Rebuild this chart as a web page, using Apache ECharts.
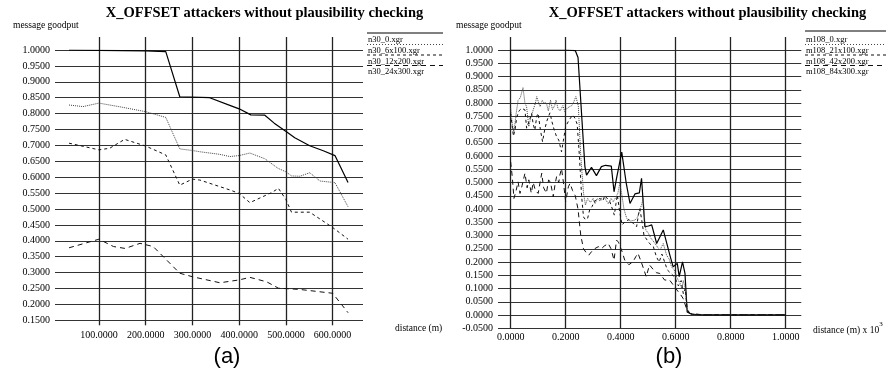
<!DOCTYPE html>
<html>
<head>
<meta charset="utf-8">
<script src="https://cdn.jsdelivr.net/npm/echarts@6/dist/echarts.min.js"></script>
<style>
  html, body { margin: 0; padding: 0; background: #fff; }
  #chart { width: 886px; height: 374px; }
</style>
</head>
<body>
<div id="chart"></div>
<script>
const title = 'X_OFFSET attackers without plausibility checking';

// panel (a): distance in metres
const ticksA = [100, 200, 300, 400, 500, 600];
const namesA = ['n30_0.xgr', 'n30_6x100.xgr', 'n30_12x200.xgr', 'n30_24x300.xgr'];
const n30_0 = [[36, 1.0], [100, 0.999], [200, 0.997], [243, 0.995], [273, 0.853], [337, 0.850], [380, 0.826],
  [400, 0.815], [425, 0.796], [455, 0.795], [475, 0.77], [502, 0.742], [519, 0.724], [551, 0.699],
  [580, 0.683], [605, 0.668], [633, 0.583]];
const n30_6x100 = [[36, 0.827], [66, 0.822], [100, 0.833], [150, 0.82], [200, 0.806], [243, 0.788],
  [273, 0.689], [300, 0.684], [316, 0.680], [358, 0.672], [380, 0.665], [400, 0.668], [423, 0.676],
  [455, 0.658], [483, 0.628], [500, 0.617], [512, 0.604], [530, 0.603], [551, 0.614], [573, 0.588],
  [605, 0.583], [633, 0.507]];
const n30_12x200 = [[36, 0.707], [100, 0.686], [123, 0.691], [155, 0.719], [200, 0.698], [243, 0.670],
  [273, 0.575], [300, 0.594], [316, 0.591], [380, 0.56], [400, 0.549], [423, 0.520], [470, 0.552],
  [484, 0.565], [500, 0.53], [512, 0.490], [551, 0.490], [600, 0.442], [633, 0.405]];
const n30_24x300 = [[36, 0.378], [100, 0.405], [131, 0.382], [156, 0.376], [188, 0.392], [216, 0.382],
  [273, 0.298], [300, 0.287], [359, 0.268], [400, 0.277], [423, 0.285], [459, 0.271], [484, 0.251],
  [530, 0.247], [600, 0.235], [633, 0.174]];

// panel (b): distance in km
const ticksB = [0, 0.2, 0.4, 0.6, 0.8, 1.0];
const namesB = ['m108_0.xgr', 'm108_21x100.xgr', 'm108_42x200.xgr', 'm108_84x300.xgr'];
const m108_0 = [[0, 1.0], [0.1, 1.0], [0.2, 1.0], [0.235, 0.998], [0.245, 0.972], [0.27, 0.56],
  [0.276, 0.528], [0.294, 0.557], [0.312, 0.526], [0.33, 0.56], [0.345, 0.565], [0.366, 0.562],
  [0.376, 0.465], [0.385, 0.516], [0.404, 0.615], [0.42, 0.50], [0.434, 0.421], [0.452, 0.457],
  [0.468, 0.461], [0.476, 0.516], [0.488, 0.333], [0.501, 0.336], [0.513, 0.340], [0.531, 0.270],
  [0.555, 0.321], [0.579, 0.226], [0.591, 0.182], [0.606, 0.195], [0.613, 0.145], [0.625, 0.201],
  [0.634, 0.157], [0.642, 0.012], [0.658, 0.003], [0.7, 0.001], [1.0, 0.001]];
const m108_21x100 = [[0, 0.78], [0.006, 0.72], [0.012, 0.69], [0.02, 0.76], [0.027, 0.81], [0.035, 0.82],
  [0.045, 0.858], [0.052, 0.80], [0.058, 0.786], [0.066, 0.711], [0.072, 0.74], [0.082, 0.774],
  [0.09, 0.80], [0.095, 0.824], [0.102, 0.80], [0.107, 0.786], [0.115, 0.81], [0.122, 0.80],
  [0.13, 0.80], [0.137, 0.77], [0.145, 0.811], [0.152, 0.775], [0.16, 0.79], [0.165, 0.811],
  [0.172, 0.78], [0.18, 0.77], [0.19, 0.79], [0.197, 0.767], [0.205, 0.78], [0.214, 0.786],
  [0.222, 0.79], [0.228, 0.80], [0.237, 0.824], [0.246, 0.79], [0.255, 0.60], [0.265, 0.46],
  [0.272, 0.415], [0.28, 0.44], [0.29, 0.425], [0.30, 0.44], [0.307, 0.42], [0.315, 0.44],
  [0.325, 0.43], [0.335, 0.45], [0.343, 0.44], [0.355, 0.42], [0.365, 0.44], [0.373, 0.428],
  [0.38, 0.44], [0.39, 0.46], [0.397, 0.497], [0.405, 0.45], [0.412, 0.40], [0.422, 0.365],
  [0.435, 0.355], [0.452, 0.358], [0.462, 0.37], [0.47, 0.40], [0.476, 0.415], [0.482, 0.44],
  [0.488, 0.35], [0.492, 0.32], [0.50, 0.31], [0.51, 0.29], [0.525, 0.27], [0.535, 0.255],
  [0.543, 0.245], [0.555, 0.27], [0.567, 0.226], [0.577, 0.21], [0.585, 0.182], [0.595, 0.17],
  [0.605, 0.14], [0.616, 0.12], [0.622, 0.10], [0.628, 0.13], [0.635, 0.10], [0.642, 0.02],
  [0.655, 0.004], [0.7, 0.001], [1.0, 0.001]];
const m108_42x200 = [[0, 0.76], [0.01, 0.675], [0.016, 0.70], [0.022, 0.745], [0.03, 0.77], [0.04, 0.78],
  [0.052, 0.774], [0.058, 0.705], [0.064, 0.70], [0.07, 0.74], [0.076, 0.761], [0.082, 0.72],
  [0.088, 0.698], [0.095, 0.75], [0.1, 0.761], [0.108, 0.70], [0.116, 0.654], [0.124, 0.70],
  [0.131, 0.73], [0.138, 0.75], [0.143, 0.763], [0.15, 0.73], [0.158, 0.70], [0.167, 0.673],
  [0.175, 0.66], [0.185, 0.616], [0.192, 0.66], [0.2, 0.711], [0.206, 0.715], [0.212, 0.735],
  [0.218, 0.742], [0.226, 0.755], [0.234, 0.742], [0.242, 0.72], [0.25, 0.60], [0.258, 0.45],
  [0.265, 0.37], [0.272, 0.36], [0.28, 0.365], [0.288, 0.40], [0.296, 0.409], [0.305, 0.43],
  [0.315, 0.435], [0.325, 0.44], [0.335, 0.43], [0.342, 0.45], [0.349, 0.453], [0.36, 0.43],
  [0.37, 0.40], [0.377, 0.377], [0.383, 0.42], [0.388, 0.453], [0.395, 0.40], [0.405, 0.34],
  [0.416, 0.352], [0.43, 0.36], [0.446, 0.346], [0.458, 0.333], [0.465, 0.38], [0.47, 0.40],
  [0.478, 0.35], [0.485, 0.30], [0.492, 0.296], [0.505, 0.27], [0.519, 0.258], [0.53, 0.22],
  [0.54, 0.20], [0.55, 0.23], [0.56, 0.20], [0.57, 0.17], [0.58, 0.16], [0.59, 0.15], [0.6, 0.135],
  [0.61, 0.11], [0.62, 0.13], [0.628, 0.08], [0.635, 0.10], [0.642, 0.02], [0.655, 0.004],
  [0.7, 0.001], [1.0, 0.001]];
const m108_84x300 = [[0, 0.578], [0.006, 0.52], [0.012, 0.44], [0.02, 0.47], [0.027, 0.503], [0.034, 0.459],
  [0.042, 0.49], [0.052, 0.535], [0.06, 0.48], [0.066, 0.51], [0.075, 0.46], [0.082, 0.50],
  [0.09, 0.47], [0.1, 0.459], [0.107, 0.50], [0.113, 0.535], [0.12, 0.48], [0.13, 0.46],
  [0.138, 0.51], [0.145, 0.50], [0.155, 0.446], [0.161, 0.49], [0.167, 0.522], [0.175, 0.50],
  [0.179, 0.528], [0.185, 0.553], [0.192, 0.50], [0.2, 0.428], [0.21, 0.484], [0.216, 0.497],
  [0.225, 0.47], [0.235, 0.45], [0.245, 0.40], [0.255, 0.30], [0.265, 0.25], [0.275, 0.235],
  [0.284, 0.226], [0.295, 0.24], [0.305, 0.25], [0.319, 0.258], [0.33, 0.25], [0.34, 0.26],
  [0.355, 0.27], [0.365, 0.25], [0.376, 0.207], [0.385, 0.283], [0.392, 0.275], [0.405, 0.24],
  [0.415, 0.207], [0.43, 0.19], [0.445, 0.201], [0.455, 0.22], [0.463, 0.233], [0.475, 0.20],
  [0.485, 0.17], [0.493, 0.145], [0.505, 0.189], [0.52, 0.17], [0.53, 0.16], [0.542, 0.157],
  [0.56, 0.132], [0.578, 0.132], [0.596, 0.107], [0.608, 0.09], [0.615, 0.082], [0.627, 0.063],
  [0.639, 0.026], [0.651, 0.006], [0.7, 0.001], [1.0, 0.001]];

const seriesA = [n30_0, n30_6x100, n30_12x200, n30_24x300];
const seriesB = [m108_0, m108_21x100, m108_42x200, m108_84x300];

// line looks, same order in both panels
const looks = [
  { type: 'solid', color: '#000', width: 1.2, dash: null },
  { type: 'dotted', color: '#444', width: 1, dash: [1, 2] },
  { type: [3, 3], color: '#111', width: 1, dash: [3, 3] },
  { type: [5, 4], color: '#111', width: 1, dash: [5, 4] }
];

const serif = 'Liberation Serif';
const fmt = v => v.toFixed(4);

function bottomAxis(grid, min, max, ticks, tickLen, margin) {
  return {
    type: 'value', gridIndex: grid, position: 'bottom', min, max,
    axisLine: { show: false },
    axisTick: { show: tickLen > 0, length: tickLen, customValues: ticks, lineStyle: { color: '#222', width: 1.3 } },
    axisLabel: { customValues: ticks, formatter: fmt, margin, fontFamily: serif, fontSize: 10, color: '#000' },
    splitLine: { show: true, showMinLine: true, lineStyle: { color: '#222', width: 1.3 } }
  };
}
function topAxis(grid, min, max, ticks) {
  return {
    type: 'value', gridIndex: grid, position: 'top', min, max,
    axisLine: { show: false },
    axisTick: { show: true, length: 13, customValues: ticks, lineStyle: { color: '#222', width: 1.3 } },
    axisLabel: { show: false },
    splitLine: { show: false }
  };
}
function leftAxis(grid, min) {
  return {
    type: 'value', gridIndex: grid, min, max: 1.0, interval: 0.05,
    axisLine: { show: false }, axisTick: { show: false },
    axisLabel: { formatter: fmt, margin: 5, fontFamily: serif, fontSize: 10, color: '#000' },
    splitLine: { lineStyle: { color: '#333', width: 1 } }
  };
}

const series = [];
seriesA.forEach((d, i) => series.push({
  name: namesA[i], type: 'line', xAxisIndex: 0, yAxisIndex: 0, data: d,
  symbol: 'none', z: 5, lineStyle: { type: looks[i].type, color: looks[i].color, width: looks[i].width }
}));
seriesB.forEach((d, i) => series.push({
  name: namesB[i], type: 'line', xAxisIndex: 2, yAxisIndex: 1, data: d,
  symbol: 'none', z: 5, lineStyle: { type: looks[i].type, color: looks[i].color, width: looks[i].width }
}));

// texts and the legend keys (line sample above each file name)
const graphic = [];
function txt(x, y, text, size, opts) {
  graphic.push({ type: 'text', x, y, style: Object.assign({ text, fontFamily: serif, fontSize: size, fill: '#000',
    align: 'left', verticalAlign: 'middle' }, opts || {}) });
}
function legend(x0, x1, lineYs, textYs, names) {
  names.forEach((n, i) => {
    graphic.push({ type: 'line', shape: { x1: x0, y1: lineYs[i], x2: x1, y2: lineYs[i] },
      style: { stroke: looks[i].color, lineWidth: 1, lineDash: looks[i].dash } });
    txt(x0 + 1, textYs[i], n, 8.5);
  });
}
txt(264.5, 13, title, 14.5, { align: 'center', fontWeight: 'bold' });
txt(707.5, 13, title, 14.5, { align: 'center', fontWeight: 'bold' });
txt(13, 25, 'message goodput', 9.5);
txt(456, 25, 'message goodput', 9.5);
txt(395, 328, 'distance (m)', 9.5);
graphic.push({ type: 'text', x: 813, y: 328, style: {
  text: '{b|distance (m) x 10}{s|3}', verticalAlign: 'middle', fill: '#000',
  rich: { b: { fontFamily: serif, fontSize: 9.5, lineHeight: 14, verticalAlign: 'bottom' },
          s: { fontFamily: serif, fontSize: 7, lineHeight: 14, verticalAlign: 'top' } } } });
legend(367, 443, [33, 44.5, 55, 65.5], [40, 51, 61.5, 72], namesA);
legend(805, 886, [31, 44.5, 55, 65.5], [40, 51, 61.5, 72], namesB);
txt(227, 357, '(a)', 22, { align: 'center', fontFamily: 'Liberation Sans' });
txt(669, 357, '(b)', 22, { align: 'center', fontFamily: 'Liberation Sans' });

const chart = echarts.init(document.getElementById('chart'), null, { renderer: 'canvas' });
chart.setOption({
  backgroundColor: '#fff',
  animation: false,
  grid: [
    { left: 55, top: 50, width: 308, height: 270.3 },
    { left: 498, top: 50, width: 303.3, height: 278.3 }
  ],
  xAxis: [
    bottomAxis(0, 6, 665, ticksA, 5, 10),
    topAxis(0, 6, 665, ticksA),
    bottomAxis(1, -0.046, 1.057, ticksB, 0, 4),
    topAxis(1, -0.046, 1.057, ticksB)
  ],
  yAxis: [leftAxis(0, 0.15), leftAxis(1, -0.05)],
  series,
  graphic
});
</script>
</body>
</html>
